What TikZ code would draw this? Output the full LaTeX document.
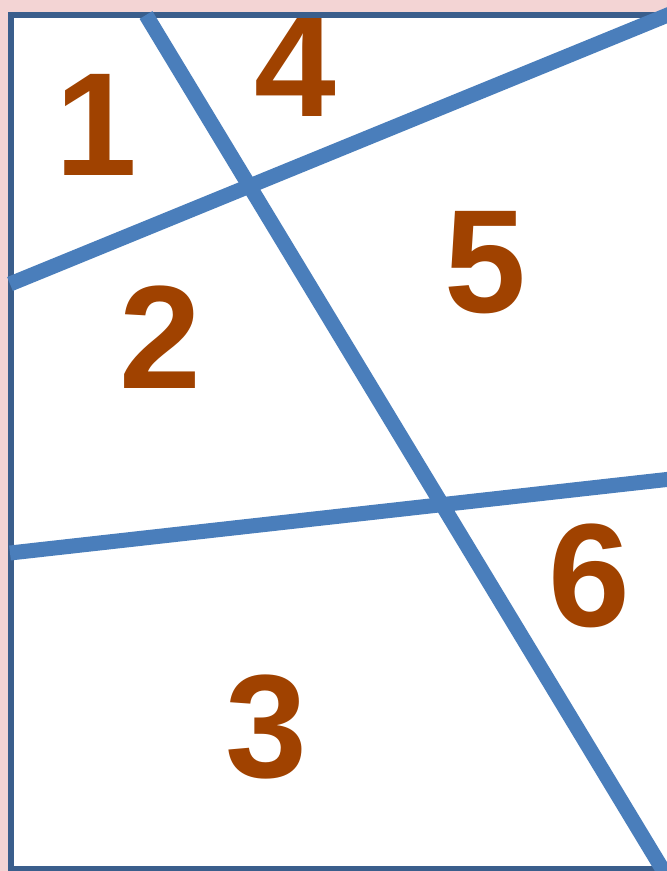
\documentclass[tikz,border=0pt]{standalone}
\usepackage{fontspec}
\setmainfont{Liberation Sans}
\usetikzlibrary{positioning}
\definecolor{paper}{RGB}{243,212,212}
\definecolor{frameblue}{RGB}{58,94,140}
\definecolor{cutblue}{RGB}{74,126,187}
\definecolor{numbrown}{RGB}{160,66,0}
\tikzset{
  frame/.style  = {draw=frameblue, line width=5.5pt},
  cut/.style    = {draw=cutblue, line width=15pt},
  region/.style = {text=numbrown, font=\fontsize{147}{147}\selectfont\bfseries,
                   inner sep=0pt, text depth=0pt},
}

\begin{document}
\begin{tikzpicture}[x=1pt, y=-1pt]
\useasboundingbox (0,0) rectangle (667,871);
\clip (0,0) rectangle (667,871);
\fill[paper] (0,0) rectangle (667,871);
\fill[white] (11,15) rectangle (690,869);

% the regions
\node[region] (r1) at (96,125)  {1};
\node[region] (r2) at (160,337) {2};
\node[region] (r3) at (266,726) {3};
\node[region] (r4) at (295,66)  {4};
\node[region] (r5) at (485,262) {5};
\node[region] (r6) at (589,575) {6};

\draw[frame] (11,15) rectangle (690,869);

% the three cuts
\coordinate (a1) at (146,15);   \coordinate (a2) at (666,875);
\coordinate (b1) at (10,284);   \coordinate (b2) at (680,10);
\coordinate (c1) at (10,553);   \coordinate (c2) at (680,478);
\draw[cut] (a1) -- (a2);
\draw[cut] (b1) -- (b2);
\draw[cut] (c1) -- (c2);
\end{tikzpicture}
\end{document}
